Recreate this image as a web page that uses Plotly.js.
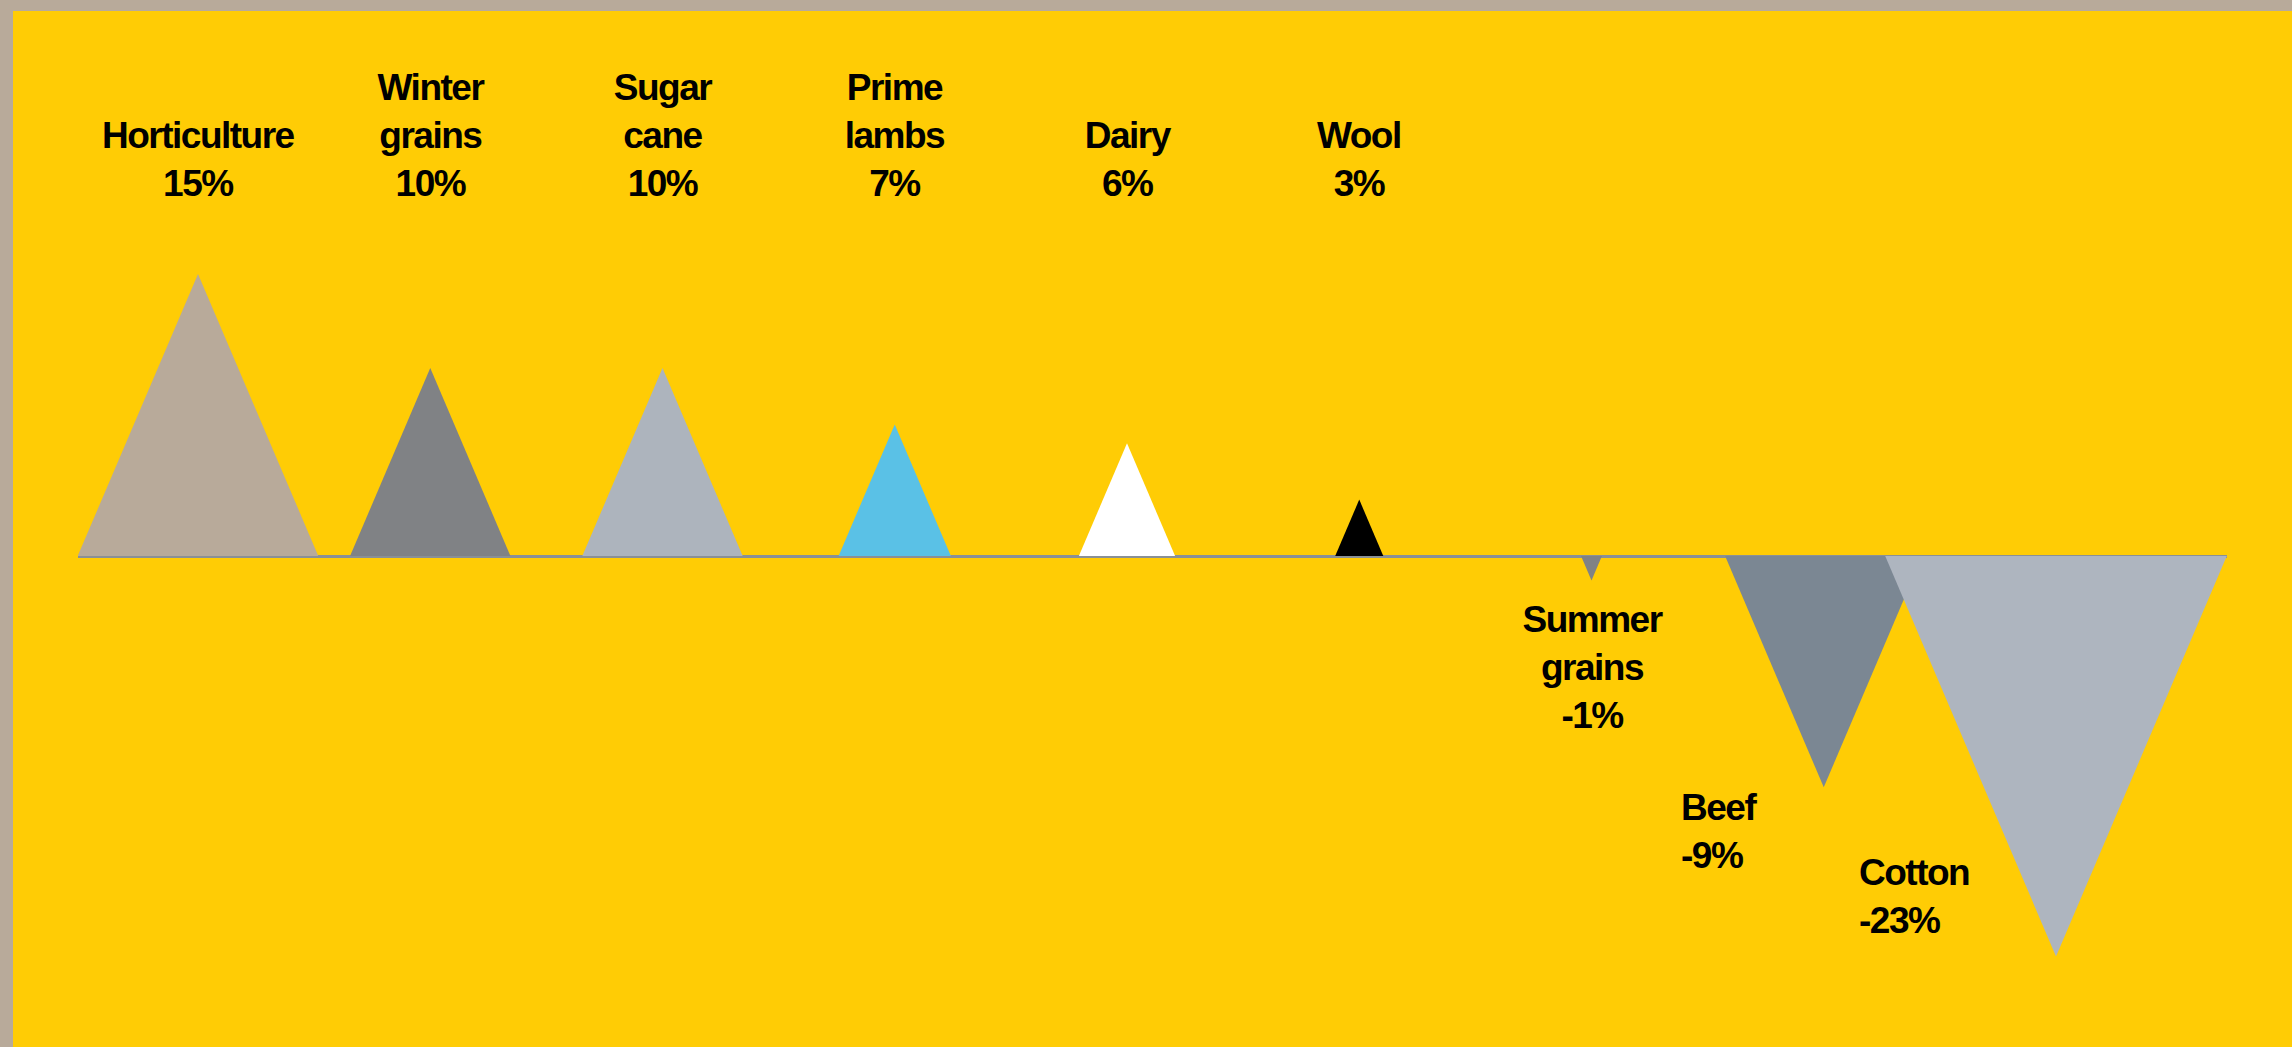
<!DOCTYPE html>
<html>
<head>
<meta charset="utf-8">
<script src="https://cdn.plot.ly/plotly-3.0.1.min.js"></script>
<style>
  html, body { margin:0; padding:0; background:#b8aa9a; width:2292px; height:1047px; overflow:hidden; }
  #chart { position:absolute; left:13px; top:11px; width:2279px; height:1036px; }
  #chart .annotation-text { letter-spacing:-1.5px; }
</style>
</head>
<body>
<div id="chart"></div>
<script>
// ---- data ----
const categories = ["Horticulture", "Winter grains", "Sugar cane", "Prime lambs", "Dairy", "Wool", "Summer grains", "Beef", "Cotton"];
const labelLines = ["Horticulture", "Winter<br>grains", "Sugar<br>cane", "Prime<br>lambs", "Dairy", "Wool", "Summer<br>grains", "Beef", "Cotton"];
const changePct = [15, 10, 10, 7, 6, 3, -1, -9, -23];
// triangle heights as drawn in the picture (in % units)
const drawnHeight = [15, 10, 10, 7.0, 6.0, 3.0, -1.3, -12.3, -21.3];

// ---- styles ----
const colors = ["#b8aa9a", "#808285", "#adb4bd", "#5ac1e6", "#ffffff", "#000000", "#808285", "#7b8793", "#aeb5bf"];
const W = 2279, H = 1036;
const margin = { l: 65, r: 65, t: 169, b: 37 };
const yRange = [-24.149, 20];
const xRange = [-0.5167, 8.7363];
const aspect = 0.853; // triangle base width / height
const font = { family: "Liberation Sans, Arial, sans-serif", size: 37, color: "#000000", weight: "bold" };

const plotW = W - margin.l - margin.r;
const plotH = H - margin.t - margin.b;
const xPx = plotW / (xRange[1] - xRange[0]);
const yPx = plotH / (yRange[1] - yRange[0]);

const traces = categories.map((name, i) => {
  const h = drawnHeight[i];
  const hw = (aspect / 2) * Math.abs(h) * yPx / xPx;
  return {
    type: "scatter",
    mode: "lines",
    name: name,
    x: [i - hw, i, i + hw, i - hw],
    y: [0, h, 0, 0],
    fill: "toself",
    fillcolor: colors[i],
    line: { width: 0, color: colors[i] },
    hoverinfo: "skip",
    showlegend: false
  };
});

// label placement (style)
const placement = [
  { y: 18.62, yanchor: "bottom", xanchor: "center", align: "center", xshift: 0 },
  { y: 18.62, yanchor: "bottom", xanchor: "center", align: "center", xshift: 0 },
  { y: 18.62, yanchor: "bottom", xanchor: "center", align: "center", xshift: 0 },
  { y: 18.62, yanchor: "bottom", xanchor: "center", align: "center", xshift: 0 },
  { y: 18.62, yanchor: "bottom", xanchor: "center", align: "center", xshift: 0 },
  { y: 18.62, yanchor: "bottom", xanchor: "center", align: "center", xshift: 0 },
  { y: -2.18, yanchor: "top", xanchor: "center", align: "center", xshift: 0 },
  { y: -12.18, yanchor: "top", xanchor: "left", align: "left", xshift: -145 },
  { y: -15.64, yanchor: "top", xanchor: "left", align: "left", xshift: -199 }
];

const annotations = categories.map((name, i) => ({
  x: i,
  y: placement[i].y,
  xref: "x", yref: "y",
  text: labelLines[i] + "<br>" + changePct[i] + "%",
  showarrow: false,
  xanchor: placement[i].xanchor,
  yanchor: placement[i].yanchor,
  align: placement[i].align,
  xshift: placement[i].xshift,
  font: font
}));

const layout = {
  width: W, height: H,
  margin: margin,
  paper_bgcolor: "#ffcc05",
  plot_bgcolor: "#ffcc05",
  showlegend: false,
  xaxis: { range: xRange, visible: false, fixedrange: true },
  yaxis: {
    range: yRange, showgrid: false, showticklabels: false, ticks: "",
    zeroline: true, zerolinecolor: "#8a9096", zerolinewidth: 3,
    showline: false, layer: "above traces", fixedrange: true
  },
  annotations: annotations
};

Plotly.newPlot("chart", traces, layout, { displayModeBar: false, staticPlot: true });
</script>
</body>
</html>
